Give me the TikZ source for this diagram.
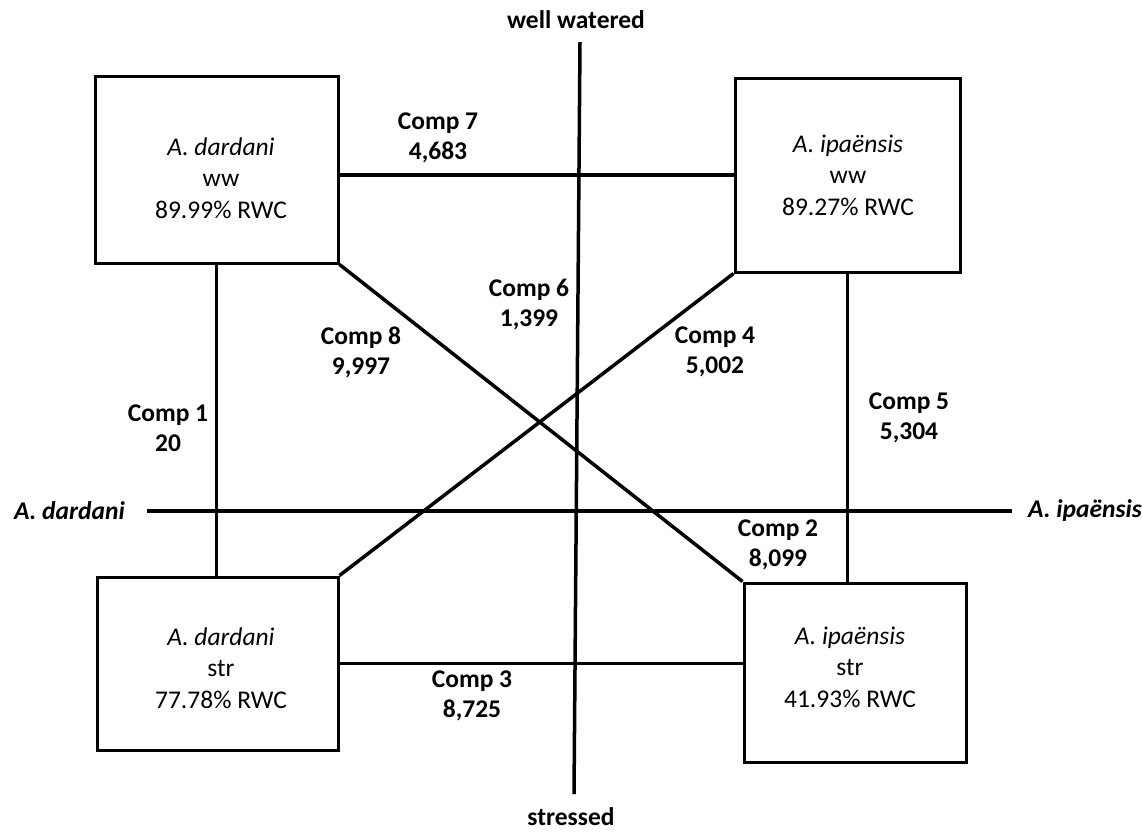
\documentclass[tikz,border=0pt]{standalone}
\usepackage{fontspec}
\setmainfont{Carlito}
\usetikzlibrary{positioning}

\begin{document}
\begin{tikzpicture}[x=1pt,y=-1pt,
    every node/.style={font=\fontsize{25.5}{31.5}\selectfont},
    plant/.style={draw,line width=3pt,inner sep=0pt},
    planttext/.style={align=center,inner sep=0pt},
    comp/.style={font=\fontsize{25.5}{30}\selectfont\bfseries,align=center,inner sep=0pt},
    link/.style={line width=3.5pt},
    axislabel/.style={font=\fontsize{25.5}{30}\selectfont\bfseries\itshape,inner sep=0pt}]
    \useasboundingbox (0,0) rectangle (1142,831);
    % axes
    \coordinate (wwtop) at (580,42);
    \coordinate (strbot) at (574,794);
    \coordinate (axl) at (147,511);
    \coordinate (axr) at (1012,511);
    \draw[link] (wwtop) -- (strbot);
    \draw[link] (axl) -- (axr);
    \node[comp] (wwlab) at (576,20) {well watered};
    \node[comp] (strlab) at (571,817) {stressed};
    \node[axislabel, left=22pt of axl] (dlab) {A. dardani};
    \node[axislabel, right=16pt of axr] (ilab) {A. ipaënsis};
    % treatments
    \node[plant, minimum width=243pt, minimum height=187pt] (dw) at (216.5,169.5) {};
    \node[plant, minimum width=225pt, minimum height=194pt] (iw) at (847.5,175) {};
    \node[plant, minimum width=241pt, minimum height=173pt] (ds) at (217.5,663.5) {};
    \node[plant, minimum width=222pt, minimum height=179pt] (is) at (855,672.5) {};
    \node[planttext] (dwt) at (221,178) {\textit{A. dardani}\\ww\\89.99\% RWC};
    \node[planttext] (iwt) at (848,175) {\textit{A. ipaënsis}\\ww\\89.27\% RWC};
    \node[planttext] (dst) at (221,668) {\textit{A. dardani}\\str\\77.78\% RWC};
    \node[planttext] (ist) at (850,667) {\textit{A. ipaënsis}\\str\\41.93\% RWC};
    % comparisons
    \draw[link] (dw.south) -- (dw.south |- ds.north);
    \draw[link] (dw.east |- iw.west) -- (iw.west);
    \draw[link] (ds.east) -- (ds.east -| is.west);
    \draw[link] (iw.south) -- (iw.south |- is.north);
    \draw[link] (dw.south east) -- (is.north west);
    \draw[link] (ds.north east) -- (iw.south west);
    \node[comp] (c1) at (168,428) {Comp 1\\20};
    \node[comp] (c2) at (778,545) {Comp 2\\8,099};
    \node[comp] (c3) at (472,696) {Comp 3\\8,725};
    \node[comp] (c4) at (715,352) {Comp 4\\5,002};
    \node[comp] (c5) at (909,418) {Comp 5\\5,304};
    \node[comp] (c6) at (529,305) {Comp 6\\1,399};
    \node[comp] (c7) at (438,138) {Comp 7\\4,683};
    \node[comp] (c8) at (361,352) {Comp 8\\9,997};
  \end{tikzpicture}
\end{document}
